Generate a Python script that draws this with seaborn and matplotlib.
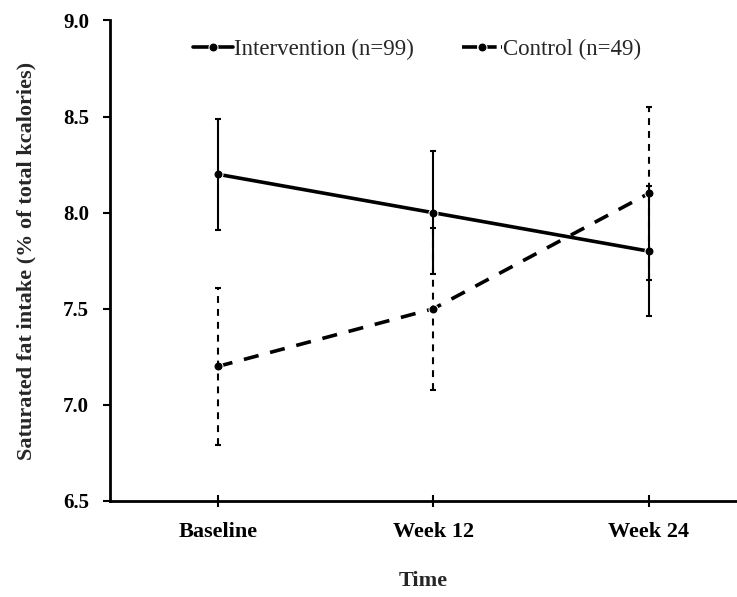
import matplotlib
matplotlib.use("Agg")
import matplotlib.pyplot as plt
import seaborn as sns
import pandas as pd
import numpy as np

timepoints = ["Baseline", "Week 12", "Week 24"]
intervention_mean = [8.2, 8.0, 7.8]
intervention_err = [0.29, 0.32, 0.34]
control_mean = [7.2, 7.5, 8.1]
control_err = [0.41, 0.42, 0.45]
series_names = ["Intervention (n=99)", "Control (n=49)"]
y_ticks = [6.5, 7.0, 7.5, 8.0, 8.5, 9.0]

sns.set_theme(style="white")
plt.rcParams['font.family'] = ['Liberation Serif', 'DejaVu Serif']

fig = plt.figure(figsize=(7.37, 5.97), dpi=100)
ax = fig.add_axes([110/737, 1 - 501/597, 1 - 110/737, (501 - 20.5)/597])

x = np.arange(len(timepoints))
df = pd.DataFrame({
    "x": np.concatenate([x, x]),
    "y": intervention_mean + control_mean,
    "group": [series_names[0]] * 3 + [series_names[1]] * 3,
})

sns.lineplot(data=df, x="x", y="y", style="group", style_order=series_names,
             dashes={series_names[0]: "", series_names[1]: (4.2, 3.3)},
             markers={series_names[0]: "o", series_names[1]: "o"},
             color="black", linewidth=2.6, markersize=6.5, ax=ax, legend=True)

eb1 = ax.errorbar(x, intervention_mean, yerr=intervention_err, fmt="none",
                  ecolor="black", elinewidth=1.5, capsize=2.5, capthick=1.5)
eb2 = ax.errorbar(x, control_mean, yerr=control_err, fmt="none",
                  ecolor="black", elinewidth=1.5, capsize=2.5, capthick=1.5)
for lc in eb2[2]:
    lc.set_linestyle((0, (3.3, 2.9)))

ax.set_xlim(-0.5, 2.41)
ax.set_ylim(6.5, 9.0)
ax.set_xticks(x)
ax.set_xticklabels(timepoints, fontsize=16, fontweight="bold")
ax.set_yticks(y_ticks)
ax.set_yticklabels([f"{v:.1f}" for v in y_ticks], fontsize=15, fontweight="bold")
ax.tick_params(axis="x", direction="inout", length=8, width=1.5, colors="black", pad=11)
ax.tick_params(axis="y", direction="out", length=5, width=1.5, colors="black", pad=10, left=True)
ax.tick_params(axis="x", bottom=True)

for s in ["top", "right"]:
    ax.spines[s].set_visible(False)
for s in ["left", "bottom"]:
    ax.spines[s].set_color("black")
    ax.spines[s].set_linewidth(2)

ax.set_xlabel("Time", fontsize=16, fontweight="bold", labelpad=21)
ax.set_ylabel("Saturated fat intake (% of total kcalories)", fontsize=16,
              fontweight="bold", labelpad=19)

leg = ax.legend(loc="upper center", bbox_to_anchor=(0.49, 0.98), ncol=2,
                frameon=False, fontsize=16.5, handlelength=1.75, handletextpad=0.05,
                columnspacing=2.1, borderaxespad=0)
leg_lines = leg.get_lines()
leg_lines[0].set_linestyle("-")
leg_lines[1].set_linestyle((0, (4.2, 1.2)))

fig.savefig("out.png", dpi=100, facecolor="white")
